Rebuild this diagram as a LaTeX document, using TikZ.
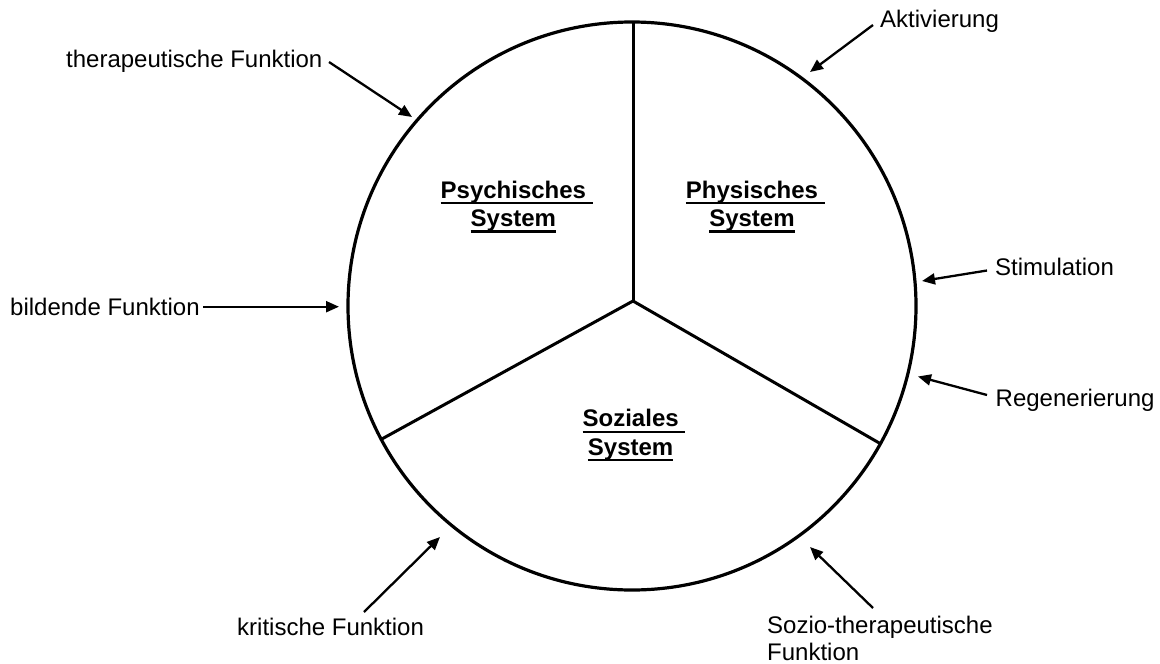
\documentclass[tikz,border=0pt]{standalone}
\usepackage{fontspec}
\setmainfont{Liberation Sans}
\usetikzlibrary{arrows.meta}
% underline a piece of text at a fixed depth below the baseline
\newcommand\ulbox[1]{\setbox0\hbox{#1}\rlap{\rule[-5.8pt]{\wd0}{2.1pt}}\box0}
\begin{document}
\begin{tikzpicture}[x=1pt,y=-1pt,
  lbl/.style={font=\fontsize{24}{27}\selectfont, inner sep=0pt, align=left},
  sys/.style={font=\bfseries\fontsize{24}{28.7}\selectfont, inner sep=0pt, align=center},
  ring/.style={draw, circle, line width=3.2pt, minimum size=568pt, inner sep=0pt, outer sep=0pt},
  divider/.style={line width=3pt},
  pointer/.style={line width=2.3pt, -{Triangle[length=13pt,width=11pt]}}]
\useasboundingbox (0,0) rectangle (1160,664);

% the three systems
\node[ring] (ring) at (632,306) {};
\coordinate (hub) at (633,301);
\draw[divider] (hub) -- (hub |- ring.north);
\draw[divider] (hub) -- (ring.208.5);
\draw[divider] (hub) -- (ring.331.5);

% base anchor of a two-line node sits on its last line
\node[sys, anchor=base] (psy) at (516.7,226.7) {\ulbox{Psychisches\ }\\\ulbox{System}\kern6.7pt};
\node[sys, anchor=base] (phy) at (755.3,226.7) {\ulbox{Physisches\ }\\\ulbox{System}\kern6.7pt};
\node[sys, anchor=base] (soz) at (634,455.5) {\ulbox{Soziales\ }\\\ulbox{System}\kern6.7pt};

% functions acting on the systems
\node[lbl, anchor=base west] (ther) at (66,67) {therapeutische Funktion};
\node[lbl, anchor=base west] (akt) at (880,27.5) {Aktivierung};
\node[lbl, anchor=base west] (stim) at (995,275) {Stimulation};
\node[lbl, anchor=base west] (reg) at (995.5,406.5) {Regenerierung};
\node[lbl, anchor=base west] (bild) at (10,315) {bildende Funktion};
\node[lbl, anchor=base west] (krit) at (237,635) {kritische Funktion};
\node[lbl, anchor=base west] (sozio) at (767,660) {Sozio-therapeutische\\Funktion};

\coordinate (therA) at (329,62);   \coordinate (therB) at (412,117);
\coordinate (aktA) at (873,25);    \coordinate (aktB) at (810,72);
\coordinate (stimA) at (987,270.5); \coordinate (stimB) at (922,281);
\coordinate (regA) at (987,395);   \coordinate (regB) at (918,376.5);
\coordinate (bildA) at (203,306.7); \coordinate (bildB) at (339,306.7);
\coordinate (kritA) at (364,612);  \coordinate (kritB) at (440,537);
\coordinate (soziA) at (873,608);  \coordinate (soziB) at (810,547);

\draw[pointer] (therA) -- (therB);
\draw[pointer] (aktA) -- (aktB);
\draw[pointer] (stimA) -- (stimB);
\draw[pointer] (regA) -- (regB);
\draw[pointer] (bildA) -- (bildB);
\draw[pointer] (kritA) -- (kritB);
\draw[pointer] (soziA) -- (soziB);
\end{tikzpicture}
\end{document}
